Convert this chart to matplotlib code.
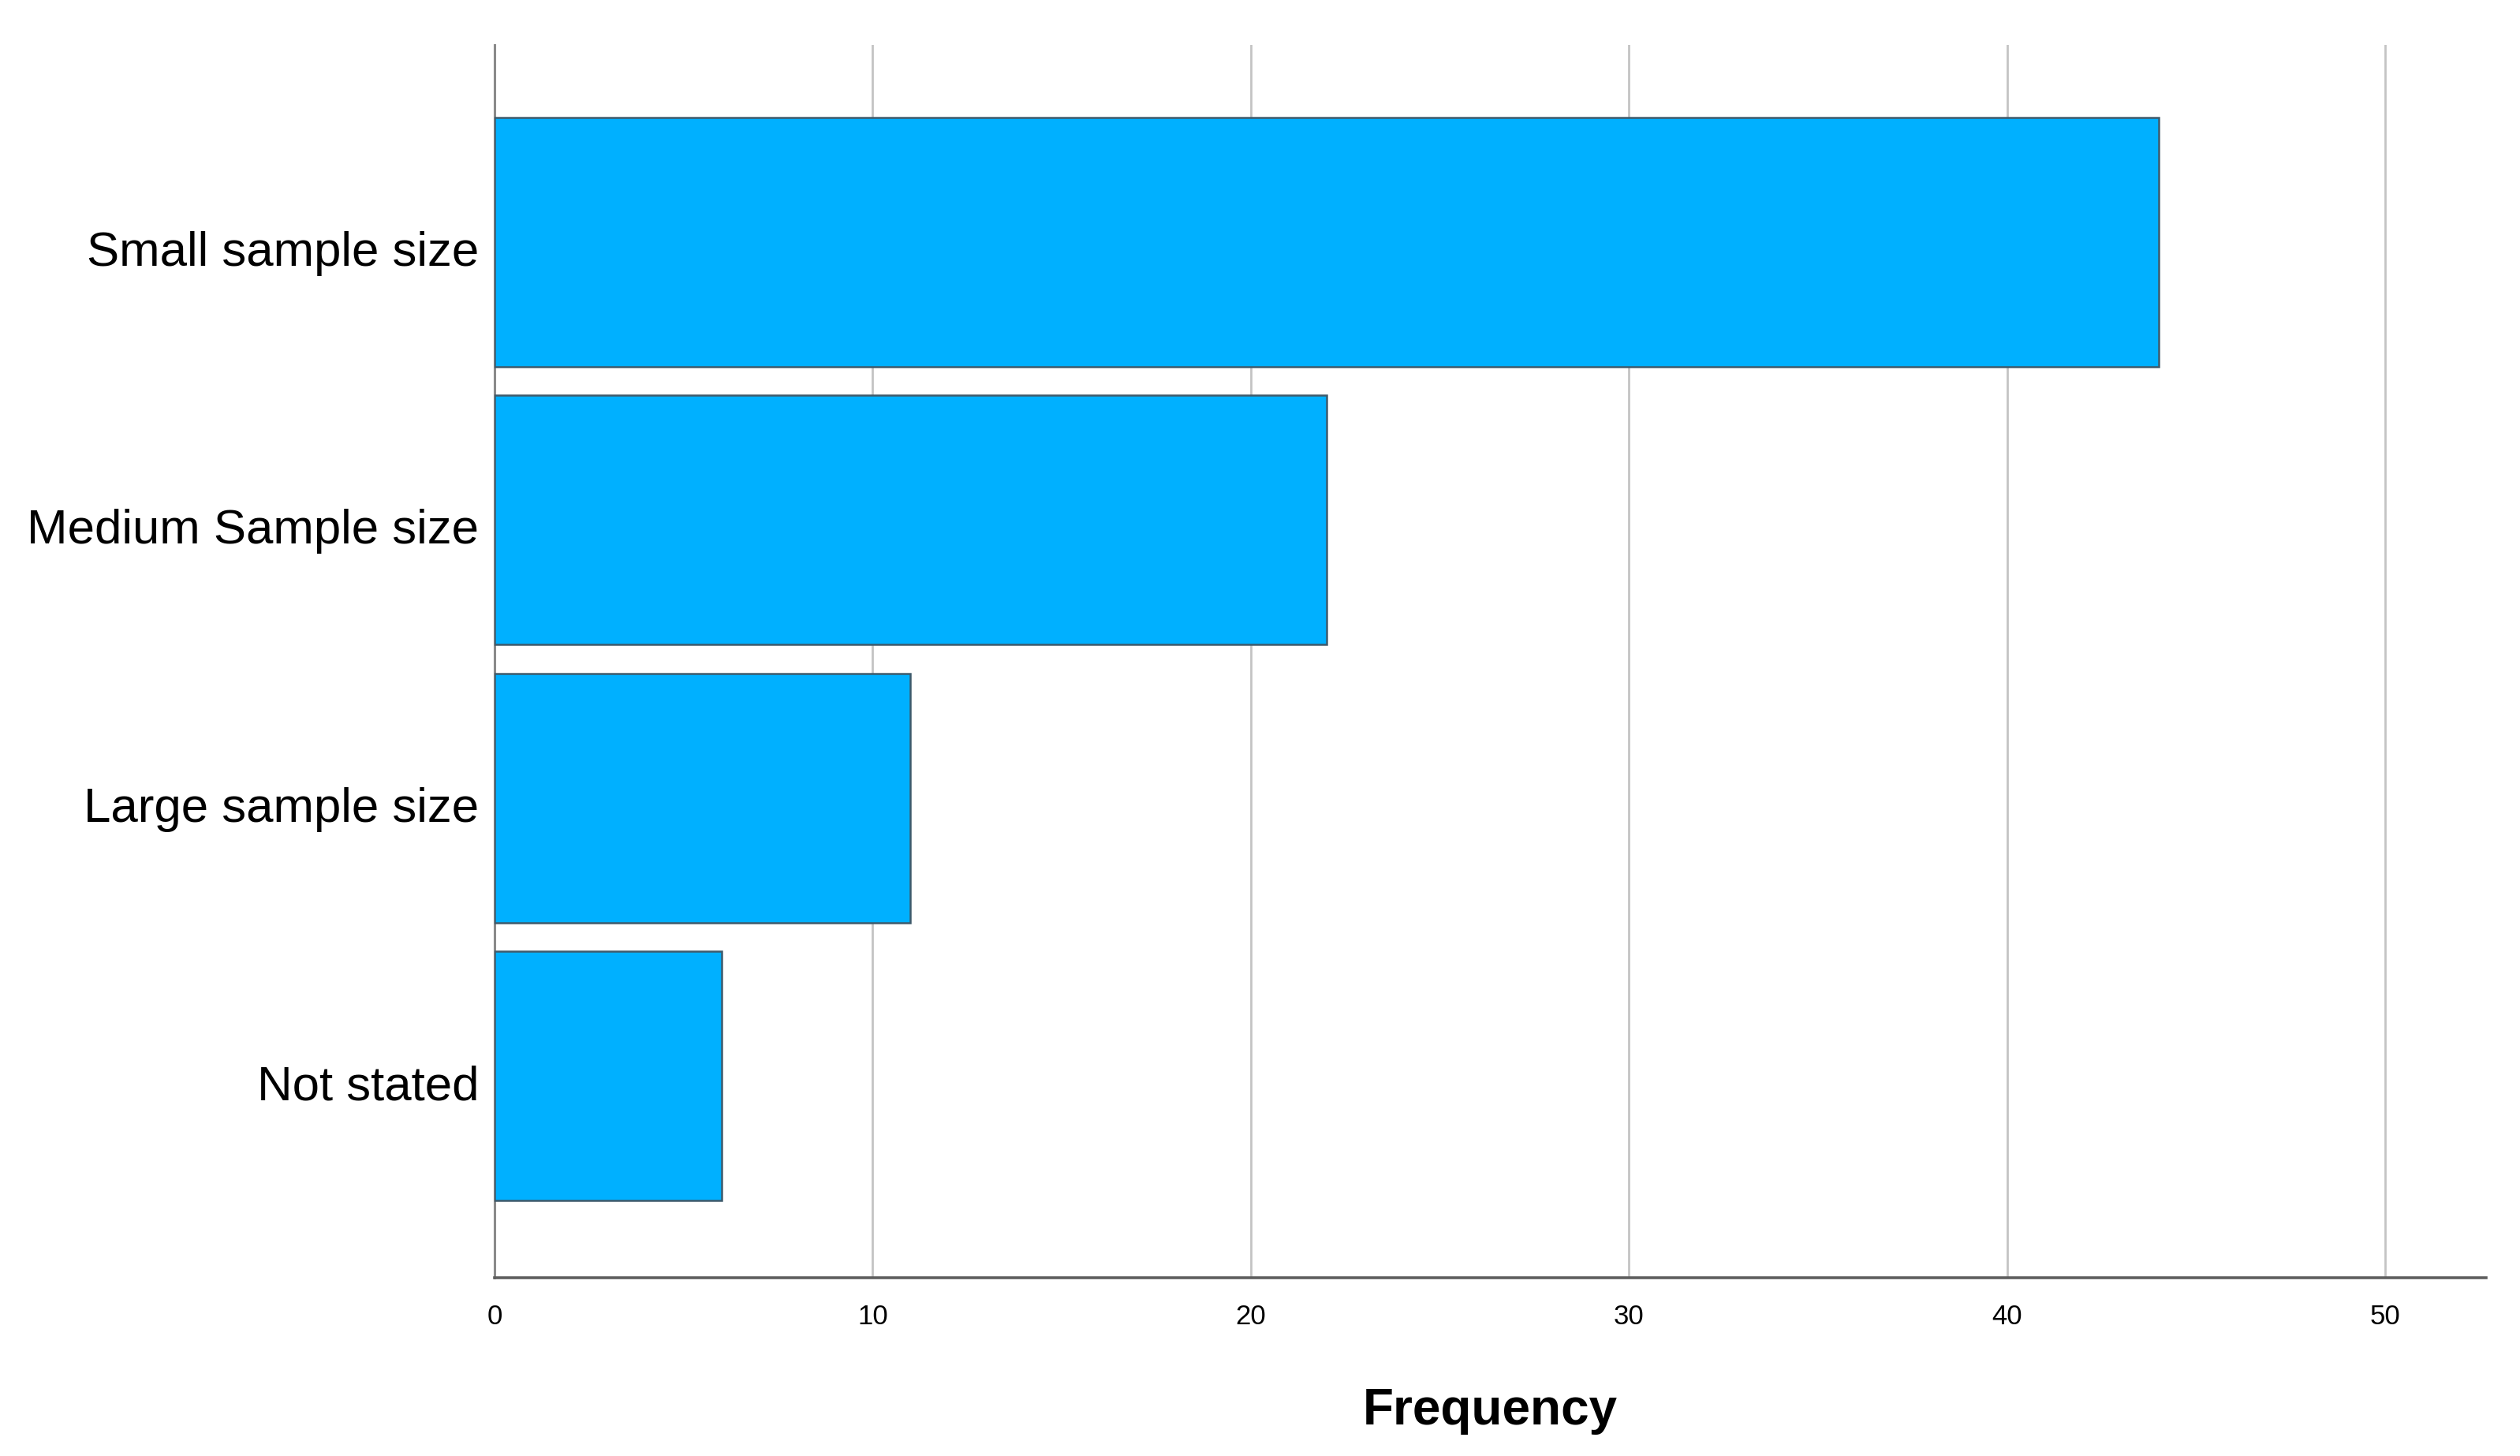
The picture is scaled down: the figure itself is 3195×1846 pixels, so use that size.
import matplotlib.pyplot as plt
from matplotlib.transforms import ScaledTranslation

plt.rcParams["font.family"] = ["Liberation Sans", "DejaVu Sans"]

BAR_BLUE = "#00b0ff"
BAR_EDGE = "#3f5a6b"
GRID_GRAY = "#c4c4c4"

categories = ["Small sample size", "Medium Sample size", "Large sample size", "Not stated"]
frequency = [44, 22, 11, 6]
x_ticks = [0, 10, 20, 30, 40, 50]


def main():
    fig = plt.figure(figsize=(31.95, 18.46), dpi=100)
    ax = fig.add_axes([0.1962, 0.1224, 0.7903, 0.8467])

    ypos = list(range(len(categories)))
    ax.barh(
        ypos,
        frequency,
        height=0.896,
        color=BAR_BLUE,
        edgecolor=BAR_EDGE,
        linewidth=1.8,
        zorder=3,
    )

    ax.set_xlim(0, 52.66)
    ax.set_ylim(3.725, -0.708)
    ax.set_xticks(x_ticks)
    ax.set_yticks(ypos)
    ax.set_yticklabels(categories)

    ax.grid(True, axis="x", color=GRID_GRAY, linewidth=2.0, zorder=0)
    ax.tick_params(axis="x", length=0, pad=24, labelsize=25)
    ax.tick_params(axis="y", length=0, pad=14, labelsize=44.5)

    # labels sit a little below the bar centre in the original
    shift = ScaledTranslation(0, -8 / 100, fig.dpi_scale_trans)
    for lab in ax.get_yticklabels():
        lab.set_transform(lab.get_transform() + shift)

    for side in ["top", "right"]:
        ax.spines[side].set_visible(False)
    ax.spines["left"].set_color("#8a8a8a")
    ax.spines["left"].set_linewidth(2.2)
    ax.spines["bottom"].set_color("#5e5e5e")
    ax.spines["bottom"].set_linewidth(2.6)

    ax.set_xlabel("Frequency", fontsize=46, fontweight="bold", labelpad=52)

    plt.savefig("out.png", dpi=100, facecolor="white")
    plt.close()


if __name__ == "__main__":
    main()
